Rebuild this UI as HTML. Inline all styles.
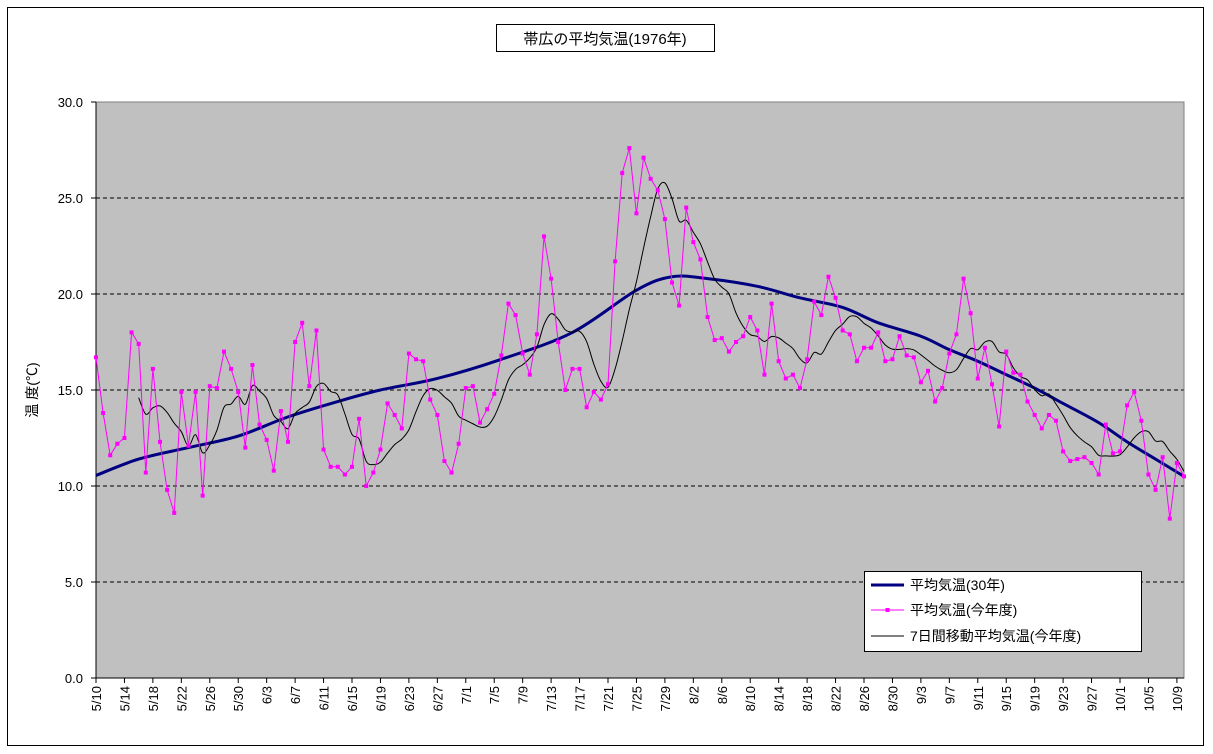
<!DOCTYPE html>
<html><head><meta charset="utf-8"><style>
body{margin:0;background:#fff;}
svg{display:block;font-family:"Liberation Sans","Noto Sans CJK JP",sans-serif;}
</style></head><body>
<svg id="s" width="1213" height="754" xmlns="http://www.w3.org/2000/svg"></svg>
<script>
const d=[16.7,13.8,11.6,12.2,12.5,18.0,17.4,10.7,16.1,12.3,9.8,8.6,14.9,12.1,14.9,9.5,15.2,15.1,17.0,16.1,14.9,12.0,16.3,13.2,12.4,10.8,13.9,12.3,17.5,18.5,15.2,18.1,11.9,11.0,11.0,10.6,11.0,13.5,10.0,10.7,11.9,
14.3,13.7,13.0,16.9,16.6,16.5,14.5,13.7,11.3,10.7,12.2,15.1,15.2,13.3,14.0,14.8,16.8,19.5,18.9,16.9,15.8,17.9,23.0,20.8,17.5,15.0,16.1,16.1,14.1,14.9,14.5,15.3,21.7,26.3,27.6,24.2,27.1,26.0,25.4,23.9,
20.6,19.4,24.5,22.7,21.8,18.8,17.6,17.7,17.0,17.5,17.8,18.8,18.1,15.8,19.5,16.5,15.6,15.8,15.1,16.6,19.6,18.9,20.9,19.8,18.1,17.9,16.5,17.2,17.2,18.0,16.5,16.6,17.8,16.8,16.7,15.4,16.0,14.4,
15.1,16.9,17.9,20.8,19.0,15.6,17.2,15.3,13.1,17.0,15.9,15.8,14.4,13.7,13.0,13.7,13.4,11.8,11.3,11.4,11.5,11.2,10.6,13.2,11.7,11.8,14.2,14.9,13.4,10.6,9.8,11.5,8.3,11.2,10.5];
const nk=[[0,10.55],[6,11.4],[13,12.0],[20,12.6],[27,13.6],[34,14.4],[40,15.0],[48,15.6],[57,16.6],[67,18.0],[76,20.2],[81,20.9],[86,20.8],[93,20.4],[99,19.8],[105,19.3],[110,18.5],[116,17.8],[120,17.1],[124,16.5],[128,15.8],[132,15.1],[136,14.3],[141,13.3],[145,12.3],[149,11.4],[153,10.5]];
const X0=96,X1=1184,Y0=678,Y30=102,n=d.length;
const X=i=>X0+i*(X1-X0)/(n-1), Y=v=>Y0-(Y0-Y30)*v/30;
function spl(pts){let p=`M${pts[0][0]},${pts[0][1]}`;for(let i=0;i<pts.length-1;i++){const p0=pts[Math.max(0,i-1)],p1=pts[i],p2=pts[i+1],p3=pts[Math.min(pts.length-1,i+2)];p+=` C${p1[0]+(p2[0]-p0[0])/6},${p1[1]+(p2[1]-p0[1])/6} ${p2[0]-(p3[0]-p1[0])/6},${p2[1]-(p3[1]-p1[1])/6} ${p2[0]},${p2[1]}`;}return p;}
let h='';
h+='<rect x="7.5" y="7.5" width="1196" height="738" fill="#fff" stroke="#000"/>';
h+='<rect x="96" y="102" width="1088" height="576" fill="#c0c0c0"/>';
for(let v=5;v<30;v+=5)h+=`<line x1="96" x2="1184" y1="${Y(v)}" y2="${Y(v)}" stroke="#000" stroke-dasharray="4,3"/>`;
h+='<rect x="96" y="102" width="1088" height="576" fill="none" stroke="#808080"/>';
h+='<line x1="96" y1="102" x2="96" y2="678" stroke="#000"/><line x1="96" y1="678" x2="1184" y2="678" stroke="#000"/>';
for(let v=0;v<=30;v+=5){h+=`<line x1="91" x2="96" y1="${Y(v)}" y2="${Y(v)}" stroke="#000"/><text x="83" y="${Y(v)+5}" font-size="13" text-anchor="end">${v.toFixed(1)}</text>`;}
const lab=["5/10","5/14","5/18","5/22","5/26","5/30","6/3","6/7","6/11","6/15","6/19","6/23","6/27","7/1","7/5","7/9","7/13","7/17","7/21","7/25","7/29","8/2","8/6","8/10","8/14","8/18","8/22","8/26","8/30","9/3","9/7","9/11","9/15","9/19","9/23","9/27","10/1","10/5","10/9"];
lab.forEach((t,k)=>{const x=X(k*4);h+=`<line x1="${x}" x2="${x}" y1="678" y2="683" stroke="#000"/><text transform="translate(${x+5},686) rotate(-90)" font-size="13" text-anchor="end">${t}</text>`;});
h+=`<path d="${spl(nk.map(a=>[X(a[0]),Y(a[1])]))}" fill="none" stroke="#000080" stroke-width="3"/>`;
let mp=[];for(let i=6;i<n;i++){let s=0;for(let j=i-6;j<=i;j++)s+=d[j];mp.push([X(i),Y(s/7)]);}
h+=`<path d="${spl(mp)}" fill="none" stroke="#000" stroke-width="1"/>`;
h+=`<polyline points="${d.map((v,i)=>X(i).toFixed(1)+','+Y(v).toFixed(1)).join(' ')}" fill="none" stroke="#ff00ff" stroke-width="1"/>`;
d.forEach((v,i)=>h+=`<rect x="${X(i)-2}" y="${Y(v)-2}" width="4" height="4" fill="#ff00ff"/>`);
h+='<rect x="496.5" y="24.5" width="218" height="27" fill="#fff" stroke="#000"/><text x="605" y="44" font-size="15" text-anchor="middle">帯広の平均気温(1976年)</text>';
h+='<text transform="translate(37,390) rotate(-90)" font-size="14" text-anchor="middle">温 度(℃)</text>';
h+='<rect x="864.5" y="571.5" width="277" height="80" fill="#fff" stroke="#000"/>';
h+='<line x1="871" x2="904" y1="585" y2="585" stroke="#000080" stroke-width="3"/><text x="910" y="590" font-size="14">平均気温(30年)</text>';
h+='<line x1="871" x2="904" y1="610" y2="610" stroke="#ff00ff"/><rect x="885.5" y="608" width="4" height="4" fill="#ff00ff"/><text x="910" y="615" font-size="14">平均気温(今年度)</text>';
h+='<line x1="871" x2="904" y1="636" y2="636" stroke="#000"/><text x="910" y="641" font-size="14">7日間移動平均気温(今年度)</text>';
document.getElementById('s').innerHTML=h;
</script>
</body></html>
